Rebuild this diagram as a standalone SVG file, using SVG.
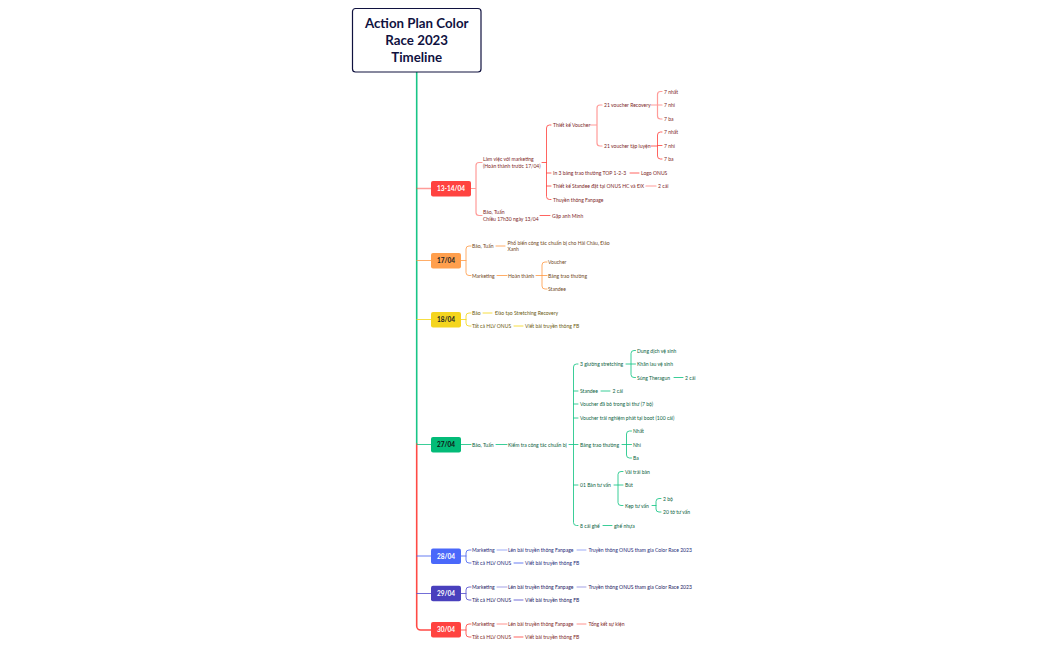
<svg xmlns="http://www.w3.org/2000/svg" width="1050" height="650" viewBox="0 0 1050 650">
<style>
text{font-family:"Lato","Noto Sans","Liberation Sans",sans-serif}
.t{font-size:5.05px;dominant-baseline:central}
.r{fill:#7d1f1f}.o{fill:#70481c}.y{fill:#6b5a10}.g{fill:#0b5f42}.b{fill:#1d2a78}.i{fill:#232063}
.n{font-size:6.5px;font-weight:700;text-anchor:middle;dominant-baseline:central}
.c{fill:none;stroke-width:1;stroke-linecap:round;opacity:.85}
.w{stroke-width:1.2;opacity:.55}
.cr{stroke:#ff4a45}.co{stroke:#ff9f4d}.cy{stroke:#f5d821}.cg{stroke:#19c586}.cb{stroke:#4d68f0}.ci{stroke:#5a55d0}
.title{font-size:13.300px;font-weight:700;fill:#10123f;text-anchor:middle;dominant-baseline:central}
</style>
<g id="connectors">
<path class="c cg" style="stroke-width:1.6;opacity:1" d="M416.7 72V444"/>
<path class="c cr" style="stroke-width:1.6;opacity:1" d="M416.7 444V626a4 4 0 0 0 4 4H431"/>
<path class="c cr w" style="stroke-width:1.6" d="M417 188.5H431"/>
<path class="c co" style="stroke-width:1.2" d="M417 260.5H431"/>
<path class="c cy" style="stroke-width:1.2" d="M417 319.5H431"/>
<path class="c cg" style="stroke-width:1.2" d="M417 444.5H431"/>
<path class="c cb" style="stroke-width:1.2" d="M417 556H431"/>
<path class="c ci" style="stroke-width:1.2" d="M417 593.5H431"/>
<path class="c cr w" d="M471 188.5H476M482 162.5H479a3 3 0 0 0-3 3V212.5a3 3 0 0 0 3 3H482"/>
<path class="c cr" d="M542 162.5H546.5M551 125H549.5a3 3 0 0 0-3 3V196.5a3 3 0 0 0 3 3H551M546.5 173H551M546.5 186H551"/>
<path class="c cr" d="M540 215.5H550M630 173H639"/>
<path class="c cr w" d="M646 186H656M590 125H597M602 105H600a3 3 0 0 0-3 3V143a3 3 0 0 0 3 3H602"/>
<path class="c cr w" d="M651 105H657.5M662 91.5H660.5a3 3 0 0 0-3 3V116a3 3 0 0 0 3 3H662M657.5 105H662"/>
<path class="c cr" d="M651 146H657.5M662 132H660.5a3 3 0 0 0-3 3V156a3 3 0 0 0 3 3H662M657.5 145.5H662"/>

<path class="c co" d="M461 260.5H466M471 246H469a3 3 0 0 0-3 3V272.5a3 3 0 0 0 3 3H471"/>
<path class="c co" d="M496 246H505M497 275.5H507M536 275.5H542M547 262H545a3 3 0 0 0-3 3V286a3 3 0 0 0 3 3H547M542 275.5H547"/>

<path class="c cy" d="M461 319.5H466M471 313H469a3 3 0 0 0-3 3V323a3 3 0 0 0 3 3H471M483 313H492M514 326H523"/>

<path class="c cg" d="M461 444.5H471M496 444.5H507M569 444.5H578M578 364H576.500a3 3 0 0 0-3 3V522.500a3 3 0 0 0 3 3H578M573.500 391H578M573.500 404H578M573.500 418H578M573.500 485H578"/>
<path class="c cg" d="M626 364H635.500M635.500 350.500H634a3 3 0 0 0-3 3V374.500a3 3 0 0 0 3 3H635.500M674 377.500H683M601 391H610M622 444.500H631.500M631.500 431H629.500a3 3 0 0 0-3 3V455a3 3 0 0 0 3 3H631.500"/>
<path class="c cg" d="M614 485H623M623 471.500H621a3 3 0 0 0-3 3V502.500a3 3 0 0 0 3 3H623M652 505.500H656M661 498.500H659a3 3 0 0 0-3 3V509a3 3 0 0 0 3 3H661M603 525.500H612"/>

<path class="c cb" d="M461 556H466M471 550H469a3 3 0 0 0-3 3V560a3 3 0 0 0 3 3H471M514 563H523"/>
<path class="c cb" style="opacity:.55" d="M497 550H507M577 550H586"/>
<path class="c ci" d="M461 593.500H466M471 587H469a3 3 0 0 0-3 3V597a3 3 0 0 0 3 3H471M514 600H523"/>
<path class="c ci" style="opacity:.55" d="M497 587H507M577 587H586"/>
<path class="c cr" d="M461 630H466M471 624H469a3 3 0 0 0-3 3V634a3 3 0 0 0 3 3H471M514 637H523"/>
<path class="c cr" style="opacity:.6" d="M497 624H507M577 624H586"/>
</g>
<g id="root"><rect x="352.500" y="8.500" width="128.500" height="63.500" rx="3" fill="#fff" stroke="#10123f" stroke-width="1.200"/>
<text class="title" x="416.700" y="22.500">Action Plan Color</text><text class="title" x="416.700" y="39.500">Race 2023</text><text class="title" x="416.700" y="57">Timeline</text></g>
<g id="node-13-14"><rect x="431" y="181" width="40" height="15.500" rx="2" fill="#ff4340"/><text class="n" x="451" y="188.700" fill="#fff">13-14/04</text></g>
<g id="node-17"><rect x="431" y="253" width="30" height="15.500" rx="2" fill="#ff9f4d"/><text class="n" x="446" y="260.700" fill="#222">17/04</text></g>
<g id="node-18"><rect x="431" y="312" width="30" height="15.500" rx="2" fill="#f4d51e"/><text class="n" x="446" y="319.700" fill="#222">18/04</text></g>
<g id="node-27"><rect x="431" y="437" width="30" height="15.500" rx="2" fill="#03bb78"/><text class="n" x="446" y="444.700" fill="#111">27/04</text></g>
<g id="node-28"><rect x="431" y="548.500" width="30" height="15.500" rx="2" fill="#4a68fa"/><text class="n" x="446" y="556.200" fill="#fff">28/04</text></g>
<g id="node-29"><rect x="431" y="585.700" width="30" height="15.500" rx="2" fill="#4940bd"/><text class="n" x="446" y="593.400" fill="#fff">29/04</text></g>
<g id="node-30"><rect x="431" y="622" width="30" height="15.500" rx="2" fill="#ff4340"/><text class="n" x="446" y="629.800" fill="#fff">30/04</text></g>

<g id="labels-13-14">
<text class="t r" x="483" y="159.300">Làm việc với marketing</text>
<text class="t r" x="483" y="165.800">(Hoàn thành trước 17/04)</text>
<text class="t r" x="483" y="212.300">Bảo, Tuấn</text>
<text class="t r" x="483" y="218.800">Chiều 17h30 ngày 13/04</text>
<text class="t r" x="552" y="216">Gặp anh Minh</text>
<text class="t r" x="553" y="125">Thiết kế Voucher</text>
<text class="t r" x="553" y="173">In 3 bảng trao thưởng TOP 1-2-3</text>
<text class="t r" x="641" y="173">Logo ONUS</text>
<text class="t r" x="553" y="186">Thiết kế Standee đặt tại ONUS HC và ĐX</text>
<text class="t r" x="658" y="186">2 cái</text>
<text class="t r" x="553" y="199.500">Thuyền thông Fanpage</text>
<text class="t r" x="604" y="105">21 voucher Recovery</text>
<text class="t r" x="604" y="146">21 voucher tập luyện</text>
<text class="t r" x="664" y="91.500">7 nhất</text>
<text class="t r" x="664" y="105">7 nhì</text>
<text class="t r" x="664" y="119">7 ba</text>
<text class="t r" x="664" y="132">7 nhất</text>
<text class="t r" x="664" y="145.500">7 nhì</text>
<text class="t r" x="664" y="159">7 ba</text>
</g>
<g id="labels-17">
<text class="t o" x="472" y="246">Bảo, Tuấn</text>
<text class="t o" x="507.500" y="242.500">Phổ biến công tác chuẩn bị cho Hải Châu, Đảo</text>
<text class="t o" x="507.500" y="249">Xanh</text>
<text class="t o" x="472" y="275.500">Marketing</text>
<text class="t o" x="508" y="275.500">Hoàn thành</text>
<text class="t o" x="548" y="262">Voucher</text>
<text class="t o" x="548" y="275.500">Bảng trao thưởng</text>
<text class="t o" x="548" y="289">Standee</text>
</g>
<g id="labels-18">
<text class="t y" x="472" y="313">Bảo</text>
<text class="t y" x="495" y="313">Đào tạo Stretching Recovery</text>
<text class="t y" x="472" y="326">Tất cả HLV ONUS</text>
<text class="t y" x="525" y="326">Viết bài truyền thông FB</text>
</g>
<g id="labels-27">
<text class="t g" x="472" y="444.500">Bảo, Tuấn</text>
<text class="t g" x="508" y="444.500">Kiểm tra công tác chuẩn bị</text>
<text class="t g" x="580" y="364">3 giường stretching</text>
<text class="t g" x="637" y="350.500">Dung dịch vệ sinh</text>
<text class="t g" x="637" y="364">Khăn lau vệ sinh</text>
<text class="t g" x="637" y="377.500">Súng Theragun</text>
<text class="t g" x="685" y="377.500">2 cái</text>
<text class="t g" x="580" y="391">Standee</text>
<text class="t g" x="612.500" y="391">2 cái</text>
<text class="t g" x="580" y="404">Voucher đã bỏ trong bì thư (7 bộ)</text>
<text class="t g" x="580" y="418">Voucher trải nghiệm phát tại boot (100 cái)</text>
<text class="t g" x="580" y="444.500">Bảng trao thưởng</text>
<text class="t g" x="633" y="431">Nhất</text>
<text class="t g" x="633" y="444.500">Nhì</text>
<text class="t g" x="633" y="458">Ba</text>
<text class="t g" x="580" y="485">01 Bàn tư vấn</text>
<text class="t g" x="625" y="471.500">Vải trải bàn</text>
<text class="t g" x="625" y="485">Bút</text>
<text class="t g" x="625" y="505.500">Kẹp tư vấn</text>
<text class="t g" x="663" y="498.500">2 bộ</text>
<text class="t g" x="663" y="512">20 tờ tư vấn</text>
<text class="t g" x="580" y="525.500">8 cái ghế</text>
<text class="t g" x="614" y="525.500">ghế nhựa</text>
</g>
<g id="labels-28">
<text class="t b" x="472" y="550">Marketing</text>
<text class="t b" x="508" y="550">Lên bài truyền thông Fanpage</text>
<text class="t b" x="588.500" y="550">Truyền thông ONUS tham gia Color Race 2023</text>
<text class="t b" x="472" y="563">Tất cả HLV ONUS</text>
<text class="t b" x="525" y="563">Viết bài truyền thông FB</text>
</g>
<g id="labels-29">
<text class="t i" x="472" y="587">Marketing</text>
<text class="t i" x="508" y="587">Lên bài truyền thông Fanpage</text>
<text class="t i" x="588.500" y="587">Truyền thông ONUS tham gia Color Race 2023</text>
<text class="t i" x="472" y="600">Tất cả HLV ONUS</text>
<text class="t i" x="525" y="600">Viết bài truyền thông FB</text>
</g>
<g id="labels-30">
<text class="t r" x="472" y="624">Marketing</text>
<text class="t r" x="508" y="624">Lên bài truyền thông Fanpage</text>
<text class="t r" x="588.500" y="624">Tổng kết sự kiện</text>
<text class="t r" x="472" y="637">Tất cả HLV ONUS</text>
<text class="t r" x="525" y="637">Viết bài truyền thông FB</text>
</g>
</svg>
